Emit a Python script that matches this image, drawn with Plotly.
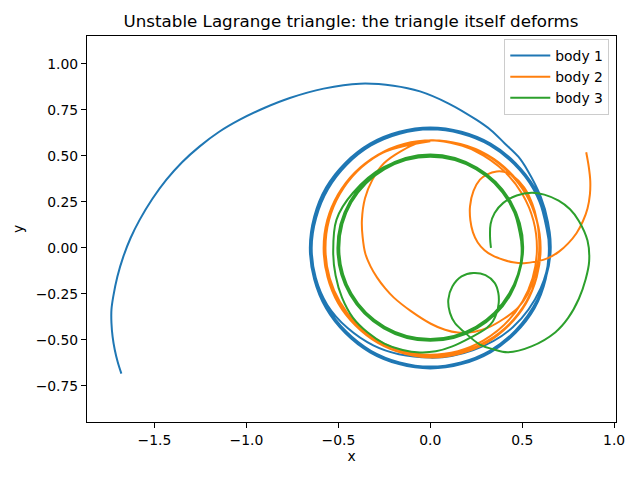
import plotly.graph_objects as go

# Trajectories (x, y in simulation units)
body1_x = [0.650, 0.563, 0.325, 0.000, -0.325, -0.563, -0.650, -0.563, -0.325, 0.000, 0.325, 0.563,
           0.645, 0.559, 0.323, 0.000, -0.323, -0.559, -0.645, -0.559, -0.323, 0.000, 0.323, 0.559,
           0.655, 0.567, 0.328, 0.000, -0.328, -0.567, -0.655, -0.567, -0.328, 0.000, 0.328, 0.567,
           0.648, 0.561, 0.324, 0.000, -0.322, -0.556, -0.645, -0.560, -0.310, 0.000, 0.234, 0.450, 0.600,
           0.652, 0.640, 0.600, 0.530, 0.479, 0.405, 0.330, 0.250, 0.100, -0.056, -0.200, -0.383,
           -0.580, -0.764, -0.900, -1.036, -1.150, -1.254, -1.350, -1.435, -1.512, -1.580, -1.630,
           -1.669, -1.702, -1.724, -1.734, -1.734, -1.728, -1.716, -1.700, -1.680]
body1_y = [0.000, 0.325, 0.563, 0.650, 0.563, 0.325, 0.000, -0.325, -0.563, -0.650, -0.563, -0.325,
           0.000, 0.323, 0.559, 0.645, 0.559, 0.323, 0.000, -0.323, -0.559, -0.645, -0.559, -0.323,
           0.000, 0.328, 0.567, 0.655, 0.567, 0.328, 0.000, -0.328, -0.567, -0.655, -0.567, -0.328,
           0.000, 0.324, 0.561, 0.645, 0.557, 0.320, 0.000, -0.310, -0.530, -0.596, -0.555, -0.430, -0.220,
           0.000, 0.140, 0.280, 0.420, 0.496, 0.568, 0.640, 0.697, 0.785, 0.851, 0.882, 0.893,
           0.866, 0.815, 0.762, 0.697, 0.630, 0.552, 0.466, 0.371, 0.266, 0.154, 0.054,
           -0.046, -0.156, -0.263, -0.335, -0.408, -0.480, -0.553, -0.620, -0.683]

body2_x = [0.000, -0.290, -0.502, -0.580, -0.502, -0.290, 0.000, 0.290, 0.502, 0.580, 0.502, 0.290,
           0.015, -0.278, -0.492, -0.570, -0.492, -0.278, 0.015, 0.308, 0.522, 0.600, 0.522, 0.308,
           0.010, -0.285, -0.501, -0.580, -0.501, -0.285, 0.010, 0.305, 0.521, 0.600, 0.521, 0.305,
           0.010, -0.052, -0.161, -0.252, -0.315, -0.355, -0.372, -0.368, -0.353, -0.325, -0.290,
           -0.245, -0.198, -0.107, 0.003, 0.080, 0.149, 0.241, 0.314, 0.400, 0.477, 0.530, 0.570,
           0.590, 0.592, 0.580, 0.555, 0.510, 0.452, 0.400, 0.361, 0.310, 0.270, 0.235, 0.216,
           0.218, 0.232, 0.258, 0.295, 0.340, 0.397, 0.450, 0.510, 0.579, 0.640, 0.700, 0.750,
           0.795, 0.830, 0.855, 0.868, 0.870, 0.862, 0.848]
body2_y = [0.580, 0.502, 0.290, 0.000, -0.290, -0.502, -0.580, -0.502, -0.290, 0.000, 0.290, 0.502,
           0.585, 0.507, 0.293, 0.000, -0.293, -0.507, -0.585, -0.507, -0.293, 0.000, 0.293, 0.507,
           0.585, 0.506, 0.290, -0.005, -0.300, -0.516, -0.595, -0.516, -0.300, -0.005, 0.290, 0.506,
           0.585, 0.575, 0.525, 0.460, 0.370, 0.270, 0.150, 0.060, -0.032, -0.100, -0.160,
           -0.220, -0.270, -0.342, -0.412, -0.445, -0.460, -0.455, -0.433, -0.385, -0.325, -0.250, -0.150,
           -0.050, 0.050, 0.150, 0.240, 0.330, 0.389, 0.414, 0.416, 0.400, 0.371, 0.310, 0.226,
           0.150, 0.085, 0.030, -0.012, -0.042, -0.064, -0.078, -0.083, -0.073, -0.055, -0.020, 0.025,
           0.080, 0.145, 0.215, 0.290, 0.365, 0.440, 0.520]

body3_x = [0.500, 0.433, 0.250, 0.000, -0.250, -0.433, -0.500, -0.433, -0.250, 0.000, 0.250, 0.433,
           0.505, 0.437, 0.253, 0.000, -0.253, -0.437, -0.505, -0.437, -0.253, 0.000, 0.253, 0.437,
           0.497, 0.429, 0.248, 0.000, -0.248, -0.429, -0.495, -0.429, -0.248, 0.000, 0.248, 0.429,
           0.500, 0.433, 0.250, 0.000, -0.250, -0.420, -0.510, -0.528, -0.515, -0.480, -0.420, -0.340,
           -0.250, -0.150, -0.056, 0.030, 0.120, 0.216, 0.307, 0.340, 0.361, 0.372, 0.370, 0.350,
           0.300, 0.234, 0.170, 0.120, 0.098, 0.107, 0.134, 0.180, 0.270, 0.340, 0.422, 0.550,
           0.679, 0.750, 0.808, 0.845, 0.864, 0.855, 0.808, 0.760, 0.698, 0.620, 0.551, 0.470,
           0.397, 0.350, 0.328, 0.325, 0.330]
body3_y = [0.000, 0.250, 0.433, 0.500, 0.433, 0.250, 0.000, -0.250, -0.433, -0.500, -0.433, -0.250,
           0.000, 0.253, 0.437, 0.508, 0.437, 0.253, 0.000, -0.253, -0.437, -0.505, -0.437, -0.253,
           0.000, 0.248, 0.429, 0.496, 0.429, 0.248, 0.000, -0.248, -0.429, -0.495, -0.429, -0.248,
           0.000, 0.250, 0.433, 0.505, 0.440, 0.300, 0.154, -0.027, -0.150, -0.270, -0.380, -0.460,
           -0.520, -0.555, -0.568, -0.562, -0.535, -0.489, -0.435, -0.400, -0.353, -0.300, -0.245, -0.190,
           -0.148, -0.136, -0.155, -0.210, -0.281, -0.353, -0.408, -0.453, -0.525, -0.550, -0.567, -0.535,
           -0.459, -0.380, -0.276, -0.170, -0.073, 0.040, 0.147, 0.210, 0.257, 0.290, 0.300, 0.285,
           0.245, 0.190, 0.130, 0.060, 0.000]

bodies = [
    ("body 1", body1_x, body1_y, "#1f77b4"),
    ("body 2", body2_x, body2_y, "#ff7f0e"),
    ("body 3", body3_x, body3_y, "#2ca02c"),
]

FONT = "DejaVu Sans"

fig = go.Figure()
for name, xs, ys, color in bodies:
    fig.add_trace(go.Scatter(
        x = xs,
        y = ys,
        mode = "lines",
        name = name,
        line = dict(color = color, width = 2, shape = "spline", smoothing = 1.0, simplify = False),
    ))

axis_common = dict(
    showline = True,
    linecolor = "black",
    linewidth = 1,
    mirror = True,
    ticks = "outside",
    ticklen = 5,
    tickwidth = 1,
    tickcolor = "black",
    showgrid = False,
    zeroline = False,
    automargin = False,
    tickfont = dict(family = FONT, size = 13.9, color = "black"),
)

# the page body adds an 8px offset, so margins are pulled in by 8px
fig.update_layout(
    width = 640,
    height = 480,
    margin = dict(l = 79, r = 32, t = 28, b = 66),
    paper_bgcolor = "white",
    plot_bgcolor = "white",
    font = dict(family = FONT, size = 13.9, color = "black"),
    title = dict(
        text = "Unstable Lagrange triangle: the triangle itself deforms",
        x = 0.536, xanchor = "center",
        y = 0.973, yanchor = "middle",
        automargin = False,
        font = dict(family = FONT, size = 16.7, color = "black"),
    ),
    xaxis = dict(
        axis_common,
        range = [-1.867, 1.01],
        dtick = 0.5,
        tick0 = 0,
        tickformat = ".1f",
        title = dict(text = "x", standoff = 4, font = dict(family = FONT, size = 13.9)),
    ),
    yaxis = dict(
        axis_common,
        range = [-0.946, 1.152],
        dtick = 0.25,
        tick0 = 0,
        tickformat = ".2f",
        title = dict(text = "y", standoff = 8, font = dict(family = FONT, size = 13.9)),
    ),
    legend = dict(
        x = 0.9873, xanchor = "right",
        y = 0.992, yanchor = "top",
        bgcolor = "rgba(255,255,255,0.8)",
        bordercolor = "#cccccc",
        borderwidth = 1,
        itemwidth = 40,
        font = dict(family = FONT, size = 13.9, color = "black"),
        tracegroupgap = 0,
    ),
)

fig.write_html("out.html")
